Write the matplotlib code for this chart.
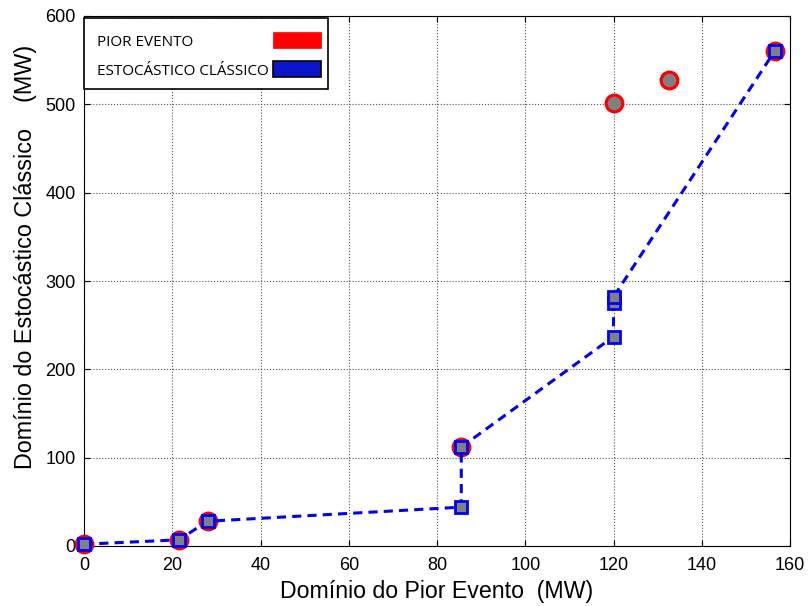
import matplotlib
matplotlib.use("Agg")
import matplotlib.pyplot as plt
from matplotlib.patches import Rectangle

# Data
pior_x = [0, 21.5, 28, 85.5, 120, 132.5, 156.5]
pior_y = [2, 7, 28, 112, 502, 527, 560]
esto_x = [0, 21.5, 28, 85.5, 85.5, 120, 120, 120, 156.5]
esto_y = [2, 7, 28, 44, 112, 237, 275, 282, 560]
xticks = [0, 20, 40, 60, 80, 100, 120, 140, 160]
yticks = [0, 100, 200, 300, 400, 500, 600]
legend_labels = ['PIOR EVENTO', 'ESTOCÁSTICO CLÁSSICO']

W, H = 808, 606
fig = plt.figure(figsize=(W / 100, H / 100), dpi=100)
ax = fig.add_axes([84 / W, 1 - 546 / H, 706 / W, 530 / H])

ax.plot(pior_x, pior_y, linestyle='none', marker='o', markersize=12,
        markerfacecolor='#808080', markeredgecolor='#ff0000', markeredgewidth=2.3,
        clip_on=False, zorder=3)
ax.plot(esto_x, esto_y, linestyle='--', dashes=(3, 2), color='#0000ff', linewidth=2.2,
        marker='s', markersize=9, markerfacecolor='#808080', markeredgecolor='#0000ff',
        markeredgewidth=2, clip_on=False, zorder=4)

ax.set_xlim(0, 160)
ax.set_ylim(0, 600)
ax.set_xticks(xticks)
ax.set_yticks(yticks)
ax.tick_params(direction='in', top=True, right=True, labelsize=13, length=4, pad=6)
ax.tick_params(axis='x', pad=8)
for lab in ax.get_xticklabels() + ax.get_yticklabels():
    lab.set_family('Liberation Sans')
ax.grid(True, linestyle=':', color='#555555', linewidth=0.8)
ax.set_axisbelow(True)

ax.set_xlabel('Domínio do Pior Evento  (MW)', fontsize=16.7, family='Liberation Sans', labelpad=4)
ax.set_ylabel('Domínio do Estocástico Clássico    (MW)', fontsize=16.8, family='Liberation Sans',
              labelpad=6)
ax.yaxis.label.set_y(0.545)

# Manual legend (pixel coordinates -> figure fraction)
def fx(px):
    return px / W

def fy(py):
    return 1 - py / H

fig.patches.append(Rectangle((fx(84), fy(89)), fx(328) - fx(84), fy(18) - fy(89),
                             transform=fig.transFigure, facecolor='white', edgecolor='black',
                             linewidth=1.2, zorder=10))
fig.patches.append(Rectangle((fx(273), fy(48)), fx(321) - fx(273), fy(32) - fy(48),
                             transform=fig.transFigure, facecolor='#ff0000', edgecolor='#ff0000',
                             linewidth=0.5, zorder=11))
fig.patches.append(Rectangle((fx(273), fy(77)), fx(321) - fx(273), fy(61) - fy(77),
                             transform=fig.transFigure, facecolor='#0a14c8', edgecolor='black',
                             linewidth=1.2, zorder=11))
fig.text(fx(97), fy(46), legend_labels[0], family='Open Sans', fontsize=11,
         ha='left', va='baseline', zorder=12)
fig.text(fx(97), fy(75), legend_labels[1], family='Open Sans', fontsize=11,
         ha='left', va='baseline', zorder=12)

fig.savefig('out.png', dpi=100)
